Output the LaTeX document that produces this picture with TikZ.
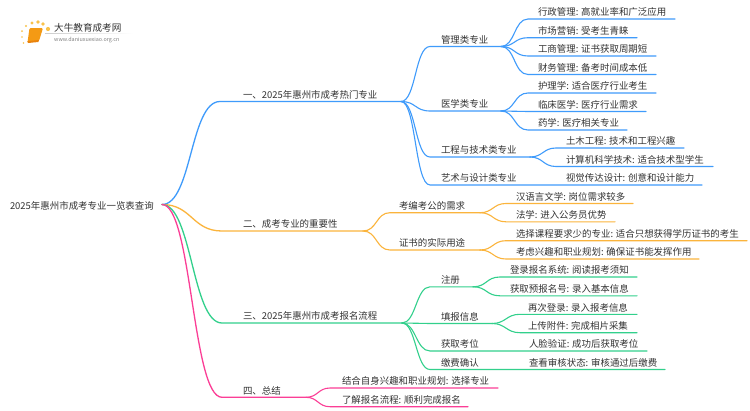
\documentclass[tikz,border=0pt]{standalone}
\usepackage{fontspec}
\setmainfont{Noto Sans CJK SC}
\definecolor{cblue}{HTML}{3F9BFB}
\definecolor{corange}{HTML}{FBB43C}
\definecolor{cgreen}{HTML}{32D08C}
\definecolor{cpink}{HTML}{FB3E96}
\definecolor{ctext}{HTML}{333333}
\definecolor{cdot}{HTML}{F9C24A}
\definecolor{cbook}{HTML}{F49A14}
\definecolor{cbookd}{HTML}{E9820C}
\tikzset{
  lab/.style={inner sep=0pt,outer sep=0pt,text=ctext,font=\fontsize{9.45}{11}\selectfont,anchor=base west},
  wire/.style={line width=1.1pt,line cap=round},
  mainwire/.style={line width=1.3pt,line cap=round}
}
% style, hub, name, d, xs, xe, y, textx, text
\newcommand{\conn}[9]{%
  \coordinate (#3s) at (#5,#7);
  \coordinate (#3e) at (#6,#7);
  \node[lab] (#3) at (#8,#7-3.2) {#9};
  \draw[#1] (#2) .. controls ([xshift=#4pt]#2) and ([xshift=-#4pt]#3s) .. (#3s) -- (#3e);
}
\begin{document}
\begin{tikzpicture}[x=1pt,y=-1pt]
\useasboundingbox (0,0) rectangle (750,410);
\fill[white] (0,0) rectangle (750,410);
% logo
\foreach \a/\b/\r in {26/26/1.2,32/23/1.7,38/22/1.8,43/24/1.9,48/29/2.1,22/31/1,22/37/.9,23.5/43/.8}{
  \fill[cdot] (\a,\b) circle (\r);
}
\fill[cbook,rounded corners=1.2pt] (29.5,28) -- (43,28) -- (39,41) -- (27.5,42.6) -- cycle;
\fill[cbookd] (27.3,41.2) -- (39,40) -- (38.4,42) -- (28,43) -- cycle;
\shade[left color=gray!40,right color=white] (45,33) rectangle (133,33.6);
\node[inner sep=0pt,anchor=base west,text=ctext,font=\fontsize{9.6}{11}\selectfont] (logoa) at (54,31) {大牛教育成考网};
\node[inner sep=0pt,anchor=base west,text=gray,font=\fontsize{5.4}{6}\selectfont] (logob) at (54,41) {www.daniuxuexiao.org.cn};
% root
\coordinate (root) at (162,204.5);
\node[lab] (rootlabel) at (10,209) {2025年惠州市成考专业一览表查询};
% blue
\conn{mainwire,cblue}{root}{a}{30}{220}{401}{101.5}{243}{一、2025年惠州市成考热门专业}
\conn{wire,cblue}{ae}{a1}{15}{430}{501}{46.5}{441}{管理类专业}
\conn{wire,cblue}{a1e}{a11}{14}{528}{675}{19}{538}{行政管理: 高就业率和广泛应用}
\conn{wire,cblue}{a1e}{a12}{14}{528}{637}{37.7}{538}{市场营销: 受考生青睐}
\conn{wire,cblue}{a1e}{a13}{14}{528}{656}{56}{538}{工商管理: 证书获取周期短}
\conn{wire,cblue}{a1e}{a14}{14}{528}{656}{74.5}{538}{财务管理: 备考时间成本低}
\conn{wire,cblue}{ae}{a2}{15}{430}{501}{111}{441}{医学类专业}
\conn{wire,cblue}{a2e}{a21}{14}{528}{656}{93}{538}{护理学: 适合医疗行业考生}
\conn{wire,cblue}{a2e}{a22}{14}{528}{646}{111.5}{538}{临床医学: 医疗行业需求}
\conn{wire,cblue}{a2e}{a23}{14}{528}{627}{130}{538}{药学: 医疗相关专业}
\conn{wire,cblue}{ae}{a3}{15}{430}{530}{157}{441}{工程与技术类专业}
\conn{wire,cblue}{a3e}{a31}{13}{556}{684}{148}{566}{土木工程: 技术和工程兴趣}
\conn{wire,cblue}{a3e}{a32}{13}{556}{713}{166.5}{566}{计算机科学技术: 适合技术型学生}
\conn{wire,cblue}{ae}{a4}{15}{430}{702}{185}{441}{艺术与设计类专业}
\node[lab] (a41) at (566,181.8) {视觉传达设计: 创意和设计能力};
% orange
\conn{mainwire,corange}{root}{b}{30}{222}{363}{231}{243}{二、成考专业的重要性}
\conn{wire,corange}{be}{b1}{14}{390}{480}{212.7}{399}{考编考公的需求}
\conn{wire,corange}{b1e}{b11}{13}{506}{633}{203.5}{516}{汉语言文学: 岗位需求较多}
\conn{wire,corange}{b1e}{b12}{13}{506}{615}{221.8}{516}{法学: 进入公务员优势}
\conn{wire,corange}{be}{b2}{14}{390}{480}{250}{399}{证书的实际用途}
\conn{wire,corange}{b2e}{b21}{13}{506}{747}{240.7}{516}{选择课程要求少的专业: 适合只想获得学历证书的考生}
\conn{wire,corange}{b2e}{b22}{13}{506}{699}{259}{516}{考虑兴趣和职业规划: 确保证书能发挥作用}
% green
\conn{mainwire,cgreen}{root}{c}{30}{222}{402}{323}{243}{三、2025年惠州市成考报名流程}
\conn{wire,cgreen}{ce}{c1}{14}{430}{473}{286.8}{441}{注册}
\conn{wire,cgreen}{c1e}{c11}{14}{500}{637}{277}{510}{登录报名系统: 阅读报考须知}
\conn{wire,cgreen}{c1e}{c12}{14}{500}{637}{295.8}{510}{获取预报名号: 录入基本信息}
\conn{wire,cgreen}{ce}{c2}{14}{430}{492}{323.5}{441}{填报信息}
\conn{wire,cgreen}{c2e}{c21}{14}{520}{637}{314.3}{528}{再次登录: 录入报考信息}
\conn{wire,cgreen}{c2e}{c22}{14}{520}{637}{332.7}{528}{上传附件: 完成相片采集}
\conn{wire,cgreen}{ce}{c3}{14}{430}{647}{351}{441}{获取考位}
\node[lab] (c31) at (529,347.8) {人脸验证: 成功后获取考位};
\conn{wire,cgreen}{ce}{c4}{14}{430}{665}{369.5}{441}{缴费确认}
\node[lab] (c41) at (529,366.3) {查看审核状态: 审核通过后缴费};
% pink
\conn{mainwire,cpink}{root}{d}{30}{222}{306}{397.3}{243}{四、总结}
\conn{wire,cpink}{de}{d1}{12}{330}{498}{388}{342}{结合自身兴趣和职业规划: 选择专业}
\conn{wire,cpink}{de}{d2}{12}{330}{468}{406.7}{342}{了解报名流程: 顺利完成报名}
\end{tikzpicture}
\end{document}
